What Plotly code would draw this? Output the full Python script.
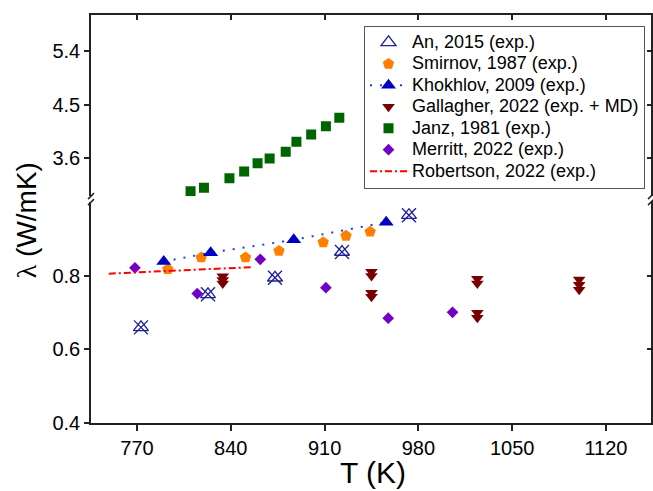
import plotly.graph_objects as go

# ---- data ----
an_T = [773, 823, 873, 923, 973]
an_k = [0.660, 0.750, 0.795, 0.865, 0.965]

smirnov_T = [793, 818, 851, 876, 909, 926, 944]
smirnov_k = [0.818, 0.850, 0.850, 0.868, 0.891, 0.909, 0.920]

khokhlov_T = [790, 825, 887, 956]
khokhlov_k = [0.839, 0.863, 0.898, 0.946]

gallagher_T = [834, 834, 834, 945, 945, 945, 945, 1024, 1024, 1024, 1024, 1100, 1100, 1100]
gallagher_k = [0.799, 0.789, 0.779, 0.811, 0.800, 0.754, 0.743, 0.792, 0.779, 0.700, 0.686, 0.790, 0.776, 0.762]

janz_T = [810, 820, 839, 850, 860, 869, 881, 889, 900, 911, 921]
janz_k = [3.05, 3.11, 3.27, 3.38, 3.52, 3.60, 3.71, 3.88, 4.00, 4.14, 4.28]

merritt_T = [768.5, 815, 862, 911, 957.5, 1005.5]
merritt_k = [0.822, 0.752, 0.845, 0.768, 0.685, 0.701]

robertson_T = [749, 857]
robertson_k = [0.806, 0.824]

x_ticks = [770, 840, 910, 980, 1050, 1120]
y_low_ticks = [0.4, 0.6, 0.8]
y_high_ticks = [3.6, 4.5, 5.4]

# ---- styling ----
FONT = "Liberation Sans, Arial, sans-serif"
X_RANGE = [735.7, 1153.6]
Y_LOW_RANGE = [0.4, 1.0005]
Y_HIGH_RANGE = [2.968, 6.003]
LOW_DOM = [0.0, 0.5413]
HIGH_DOM = [0.5560, 1.0]
AX = "#222222"


def lg(name):
    return '<span style="font-size:18px">' + name + '</span>'


fig = go.Figure()

fig.add_trace(go.Scatter(
    x=an_T, y=an_k, mode="markers", name=lg("An, 2015 (exp.)"), legendgroup="an",
    marker=dict(symbol="triangle-up-open", size=13, color="#1F1F99", line=dict(width=1.3, color="#1F1F99")),
    xaxis="x", yaxis="y"))
fig.add_trace(go.Scatter(
    x=an_T, y=an_k, mode="markers", showlegend=False, legendgroup="an",
    marker=dict(symbol="x-thin-open", size=14, color="#1F1F99", line=dict(width=1.3, color="#1F1F99")),
    xaxis="x", yaxis="y"))
fig.add_trace(go.Scatter(
    x=smirnov_T, y=smirnov_k, mode="markers", name=lg("Smirnov, 1987 (exp.)"),
    marker=dict(symbol="pentagon", size=12, color="#FF8000"),
    xaxis="x", yaxis="y"))
fig.add_trace(go.Scatter(
    x=khokhlov_T, y=khokhlov_k, mode="lines+markers", name=lg("Khokhlov, 2009 (exp.)"),
    marker=dict(symbol="triangle-up", size=13, color="#0000C0"),
    line=dict(color="#2040E0", width=2, dash="2px,8px"),
    xaxis="x", yaxis="y"))
fig.add_trace(go.Scatter(
    x=gallagher_T, y=gallagher_k, mode="markers", name=lg("Gallagher, 2022 (exp. + MD)"),
    marker=dict(symbol="triangle-down", size=11, color="#7A0000"),
    xaxis="x", yaxis="y"))
fig.add_trace(go.Scatter(
    x=janz_T, y=janz_k, mode="markers", name=lg("Janz, 1981 (exp.)"),
    marker=dict(symbol="square", size=10, color="#006400"),
    xaxis="x", yaxis="y2"))
fig.add_trace(go.Scatter(
    x=merritt_T, y=merritt_k, mode="markers", name=lg("Merritt, 2022 (exp.)"),
    marker=dict(symbol="diamond", size=9, color="#7300C4"),
    xaxis="x", yaxis="y"))
fig.add_trace(go.Scatter(
    x=robertson_T, y=robertson_k, mode="lines", name=lg("Robertson, 2022 (exp.)"),
    line=dict(color="#FF0000", width=2, dash="7px,3px,2px,3px"),
    xaxis="x", yaxis="y"))

# empty helper traces so the mirrored frame axes (top / right) are always rendered
for xa, ya in (("x2", "y2"), ("x", "y3"), ("x", "y4")):
    fig.add_trace(go.Scatter(x=[], y=[], xaxis=xa, yaxis=ya, showlegend=False, hoverinfo="skip"))

tickfont = dict(family=FONT, size=20, color="black")

fig.update_layout(
    width=653, height=491,
    margin=dict(l=91, r=2, t=15, b=68),
    paper_bgcolor="white", plot_bgcolor="white",
    font=dict(family=FONT, color="black"),
    showlegend=True,
    legend=dict(x=0.4875, y=0.9738, xanchor="left", yanchor="top",
                bgcolor="white", bordercolor="#555555", borderwidth=1,
                font=dict(family=FONT, size=14.2, color="black"),
                itemwidth=37, tracegroupgap=0),
    xaxis=dict(range=X_RANGE, tickvals=x_ticks, ticktext=[str(v) for v in x_ticks],
               ticks="outside", ticklen=6, tickwidth=1.5, tickcolor=AX,
               showline=True, linecolor=AX, linewidth=1.5, showgrid=False, zeroline=False,
               tickfont=tickfont, anchor="y"),
    xaxis2=dict(range=X_RANGE, tickvals=x_ticks, overlaying="x", side="top", anchor="y2",
                ticks="inside", ticklen=5, tickwidth=1.5, tickcolor=AX, showticklabels=False,
                showline=True, linecolor=AX, linewidth=1.5, showgrid=False, zeroline=False),
    yaxis=dict(domain=LOW_DOM, range=Y_LOW_RANGE, tickvals=y_low_ticks,
               ticktext=["0.4", "0.6", "0.8"],
               ticks="outside", ticklen=5, tickwidth=1.5, tickcolor=AX,
               showline=True, linecolor=AX, linewidth=1.5, showgrid=False, zeroline=False,
               tickfont=tickfont, anchor="x"),
    yaxis2=dict(domain=HIGH_DOM, range=Y_HIGH_RANGE, tickvals=y_high_ticks,
                ticktext=["3.6", "4.5", "5.4"],
                ticks="outside", ticklen=5, tickwidth=1.5, tickcolor=AX,
                showline=True, linecolor=AX, linewidth=1.5, showgrid=False, zeroline=False,
                tickfont=tickfont, anchor="x"),
    yaxis3=dict(range=Y_LOW_RANGE, tickvals=y_low_ticks, overlaying="y", side="right", anchor="x",
                ticks="inside", ticklen=4, tickwidth=1.5, tickcolor=AX, showticklabels=False,
                showline=True, linecolor=AX, linewidth=1.5, showgrid=False, zeroline=False),
    yaxis4=dict(range=Y_HIGH_RANGE, tickvals=y_high_ticks, overlaying="y2", side="right", anchor="x",
                ticks="inside", ticklen=4, tickwidth=1.5, tickcolor=AX, showticklabels=False,
                showline=True, linecolor=AX, linewidth=1.5, showgrid=False, zeroline=False),
)

# axis break marks on left and right axes
for xa in (0, 1):
    for ya in (LOW_DOM[1], HIGH_DOM[0]):
        fig.add_shape(type="line", xref="paper", yref="paper",
                      xsizemode="pixel", ysizemode="pixel", xanchor=xa, yanchor=ya,
                      x0=-3, x1=3, y0=-3, y1=3,
                      line=dict(color=AX, width=1.5), layer="above")

# axis titles
fig.add_annotation(text="T (K)", xref="paper", yref="paper", x=0.503, y=-0.121,
                   xanchor="center", yanchor="middle", showarrow=False,
                   font=dict(family=FONT, size=30, color="black"))
fig.add_annotation(text='<span style="font-family:Liberation Serif">λ</span> (W/mK)',
                   xref="paper", yref="paper", x=-0.116, y=0.497,
                   xanchor="center", yanchor="middle", textangle=-90, showarrow=False,
                   font=dict(family=FONT, size=28, color="black"))

fig.write_html("out.html")
